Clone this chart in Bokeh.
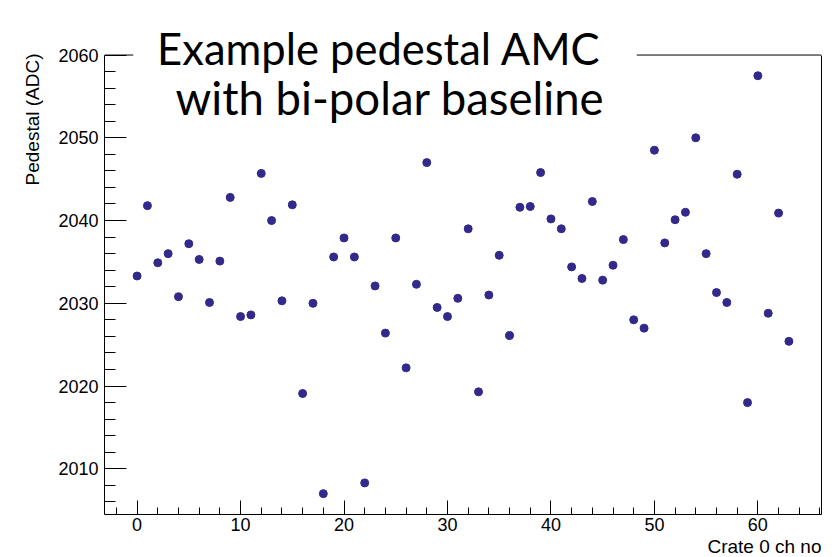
from bokeh.plotting import figure
from bokeh.models import FixedTicker, Label, BoxAnnotation, Range1d, Span, LinearAxis, Title
from bokeh.embed import file_html
from bokeh.resources import INLINE

# --- data ---
channels = list(range(64))
pedestal = [
    2033.3, 2041.8, 2034.9, 2036.0, 2030.8, 2037.2, 2035.3, 2030.1,
    2035.1, 2042.8, 2028.4, 2028.6, 2045.7, 2040.0, 2030.3, 2041.9,
    2019.1, 2030.0, 2007.0, 2035.6, 2037.9, 2035.6, 2008.3, 2032.1,
    2026.4, 2037.9, 2022.2, 2032.3, 2047.0, 2029.5, 2028.4, 2030.6,
    2039.0, 2019.3, 2031.0, 2035.8, 2026.1, 2041.6, 2041.7, 2045.8,
    2040.2, 2039.0, 2034.4, 2033.0, 2042.3, 2032.8, 2034.6, 2037.7,
    2028.0, 2027.0, 2048.5, 2037.3, 2040.1, 2041.0, 2050.0, 2036.0,
    2031.3, 2030.1, 2045.6, 2018.0, 2057.5, 2028.8, 2040.9, 2025.4,
]
x_major = [0, 10, 20, 30, 40, 50, 60]
x_minor = list(range(-2, 67, 2))
y_major = [2010, 2020, 2030, 2040, 2050, 2060]
y_minor = list(range(2006, 2060, 2))

title_lines = ["Example pedestal AMC", "with bi-polar baseline"]
x_title = "Crate 0 ch no"
y_title = "Pedestal (ADC)"

Y_LO, Y_HI, Y_TOP = 2004.48, 2060.0, 2066.59
X_LO, X_HI = -3.15, 66.15

p = figure(width=832, height=557, output_backend="svg", toolbar_location=None,
           x_range=Range1d(X_LO, X_HI), y_range=Range1d(Y_LO, Y_TOP),
           min_border_left=104, min_border_right=11, min_border_top=0,
           min_border_bottom=43, background_fill_color="white",
           border_fill_color="white")
p.xgrid.visible = False
p.ygrid.visible = False
p.outline_line_color = None

p.xaxis.ticker = FixedTicker(ticks=x_major, minor_ticks=x_minor)
p.yaxis.ticker = FixedTicker(ticks=y_major, minor_ticks=y_minor)
p.yaxis.bounds = (Y_LO, Y_HI)
for ax in (p.xaxis[0], p.yaxis[0]):
    ax.axis_line_color = "black"
    ax.major_tick_line_color = "black"
    ax.minor_tick_line_color = "black"
    ax.major_tick_out = 0
    ax.minor_tick_out = 0
    ax.major_label_text_font = "Liberation Sans"
    ax.major_label_text_font_size = "18px"
    ax.major_label_text_color = "black"
p.yaxis.major_tick_in = 22
p.yaxis.minor_tick_in = 11
p.yaxis.major_label_standoff = 6
p.xaxis.major_tick_in = 14
p.xaxis.minor_tick_in = 7
p.xaxis.major_label_standoff = 3

# axis titles, right/top aligned as in ROOT
p.add_layout(Title(text=y_title, align="right", offset=53, standoff=26,
                   text_font="Liberation Sans", text_font_size="19px",
                   text_font_style="normal", text_color="black"), "left")
p.add_layout(Title(text=x_title, align="right", offset=0, standoff=1,
                   text_font="Liberation Sans", text_font_size="19px",
                   text_font_style="normal", text_color="black"), "below")

# right frame line
right_ax = LinearAxis(ticker=FixedTicker(ticks=[]), bounds=(Y_LO, Y_HI),
                      major_tick_in=0, major_tick_out=0, minor_tick_in=0,
                      minor_tick_out=0, major_label_standoff=0,
                      axis_line_color="black")
p.add_layout(right_ax, "right")

# top frame line
p.add_layout(Span(location=Y_HI, dimension="width", line_color="black",
                  line_width=1))

p.scatter(channels, pedestal, size=8, color="#33298a", marker="circle")

# white box of the pasted title
p.add_layout(BoxAnnotation(left=-0.37, right=48.3, bottom=2053.9,
                           fill_color="white", fill_alpha=1.0,
                           line_color=None, level="overlay"))

p.add_layout(Label(x=23.39, y=2060.9, text=title_lines[0], text_font="Lato",
                   text_font_size="43.5px", text_align="center",
                   text_baseline="alphabetic", text_color="black",
                   level="overlay"))
p.add_layout(Label(x=24.45, y=2054.9, text=title_lines[1], text_font="Lato",
                   text_font_size="45.5px", text_align="center",
                   text_baseline="alphabetic", text_color="black",
                   level="overlay"))

open("out.html", "w").write(file_html(p, INLINE))
